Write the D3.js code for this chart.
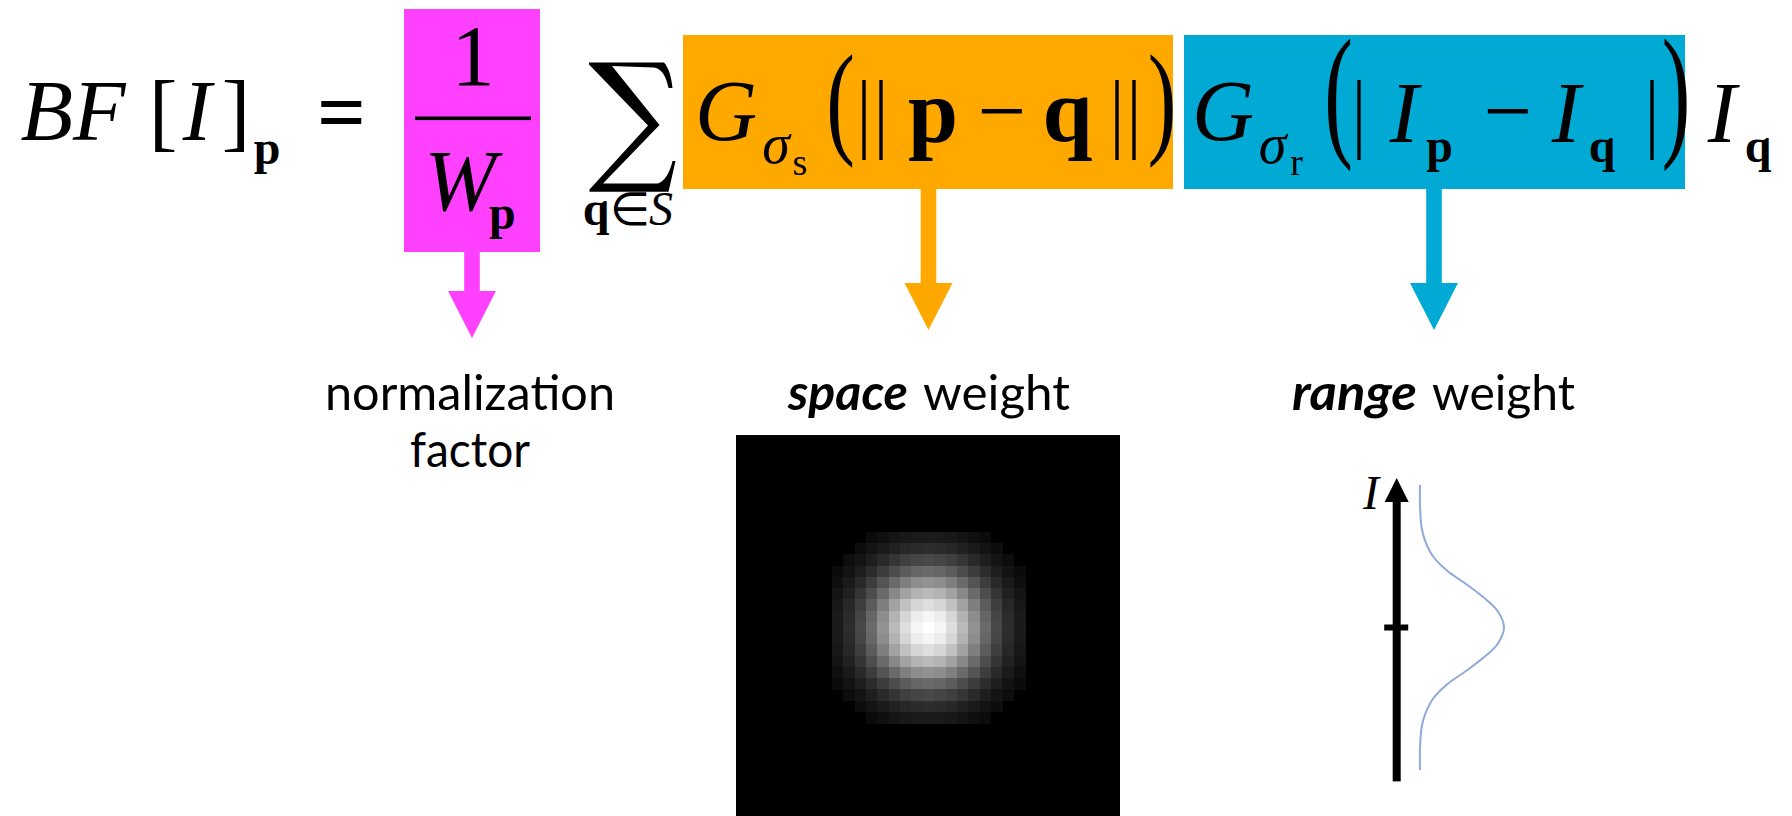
<!DOCTYPE html>
<html><head><meta charset="utf-8">
<script src="https://cdn.jsdelivr.net/npm/d3@7"></script>
<style>html,body{margin:0;padding:0;background:#fff;overflow:hidden}</style>
</head><body>
<svg id="c" width="1792" height="816" xmlns="http://www.w3.org/2000/svg"></svg>
<script>
// ---------------- data ----------------
const normLabel = ["normalization", "factor"];
const spaceLabel = ["space", "weight"];
const rangeLabel = ["range", "weight"];
// gray level of the spatial Gaussian kernel vs |offset| (in cells) along one axis
const gaussProfile = [255, 246, 222, 186, 146, 106, 72, 45, 27];
// half-width (in cells) of each kernel row vs |row offset|
const gaussRowExtent = [8, 8, 8, 8, 8, 8, 7, 6, 5];
// range kernel: [intensity offset, weight]
const rangeCurve = [
  [1.00, 0.00], [0.85, 0.00], [0.70, 0.02], [0.61, 0.06], [0.50, 0.155],
  [0.40, 0.32], [0.30, 0.56], [0.19, 0.80], [0.11, 0.93], [0.00, 1.00],
  [-0.11, 0.93], [-0.19, 0.80], [-0.30, 0.56], [-0.40, 0.32], [-0.50, 0.155],
  [-0.61, 0.06], [-0.70, 0.02], [-0.85, 0.00], [-1.00, 0.00]
];

// ---------------- drawing ----------------
const svg = d3.select("#c");
const SERIF = "'Liberation Serif','Times New Roman',serif";
const SANS = "Lato,'Open Sans',sans-serif";
const MAG = "#ff40ff", ORA = "#ffa800", BLU = "#00aad4";

// coloured boxes
const boxes = [
  {x: 404, y: 9, w: 136, h: 243, c: MAG},
  {x: 683, y: 35, w: 490, h: 154, c: ORA},
  {x: 1184, y: 35, w: 501, h: 154, c: BLU}
];
svg.selectAll("rect.box").data(boxes).join("rect").attr("class", "box")
  .attr("x", d => d.x).attr("y", d => d.y).attr("width", d => d.w).attr("height", d => d.h)
  .attr("fill", d => d.c);

// arrows
const arrows = [
  {x: 472, y0: 252, y1: 291, tip: 338, c: MAG},
  {x: 928.5, y0: 189, y1: 283, tip: 330, c: ORA},
  {x: 1434, y0: 189, y1: 283, tip: 330, c: BLU}
];
arrows.forEach(a => {
  svg.append("rect").attr("x", a.x - 7.8).attr("y", a.y0 - 1).attr("width", 15.6)
    .attr("height", a.y1 - a.y0 + 2).attr("fill", a.c);
  svg.append("path").attr("d", d3.line()([[a.x - 24, a.y1], [a.x + 24, a.y1], [a.x, a.tip]]) + "Z")
    .attr("fill", a.c);
});

// formula glyphs: t text, x centre, y baseline, s size, f style (i italic, b bold, r roman)
const glyphs = [
  {t: "BF", x: 73, y: 140, s: 86, f: "i"},
  {t: "[", x: 163, y: 140, s: 86, f: "r"},
  {t: "I", x: 197, y: 140, s: 86, f: "i"},
  {t: "]", x: 236, y: 140, s: 86, f: "r"},
  {t: "p", x: 267, y: 164, s: 48, f: "b"},
  {t: "=", x: 341.5, y: 141, s: 86, f: "b"},
  {t: "1", x: 473, y: 85, s: 86, f: "r"},
  {t: "q", x: 596, y: 225, s: 48, f: "b"},
  {t: "∈", x: 629.5, y: 225, s: 46, f: "r"},
  {t: "S", x: 661, y: 225, s: 48, f: "i"},
  // space kernel
  {t: "G", x: 726, y: 140, s: 86, f: "i"},
  {t: "σ", x: 776, y: 163, s: 56, f: "i"},
  {t: "s", x: 800, y: 175, s: 38, f: "r"},
  {t: "p", x: 933, y: 142, s: 90, f: "b"},
  {t: "−", x: 1002, y: 140, s: 86, f: "r"},
  {t: "q", x: 1067.5, y: 142, s: 90, f: "b"},
  // range kernel
  {t: "G", x: 1223, y: 140, s: 86, f: "i"},
  {t: "σ", x: 1272.5, y: 163, s: 56, f: "i"},
  {t: "r", x: 1296.5, y: 175, s: 38, f: "r"},
  {t: "I", x: 1404, y: 142, s: 86, f: "i"},
  {t: "p", x: 1439.5, y: 162, s: 48, f: "b"},
  {t: "−", x: 1508, y: 140, s: 86, f: "r"},
  {t: "I", x: 1566, y: 142, s: 86, f: "i"},
  {t: "q", x: 1602, y: 162, s: 48, f: "b"},
  {t: "I", x: 1722, y: 142, s: 86, f: "i"},
  {t: "q", x: 1758, y: 162, s: 48, f: "b"}
];
svg.selectAll("text.g").data(glyphs).join("text").attr("class", "g")
  .attr("x", d => d.x).attr("y", d => d.y)
  .attr("text-anchor", "middle")
  .attr("font-family", SERIF).attr("font-size", d => d.s)
  .attr("font-style", d => d.f === "i" ? "italic" : "normal")
  .attr("font-weight", d => d.f === "b" ? "bold" : "normal")
  .attr("fill", "#000").text(d => d.t);

// denominator W_p (W advance tightened so the subscript sits close)
svg.append("text").attr("x", 424.5).attr("y", 210)
  .attr("font-family", SERIF).attr("font-size", 86).attr("font-style", "italic")
  .attr("letter-spacing", -10).attr("fill", "#000").text("W");
svg.append("text").attr("x", 489).attr("y", 229)
  .attr("font-family", SERIF).attr("font-size", 48).attr("font-weight", "bold")
  .attr("fill", "#000").text("p");

// summation sign (drawn as an outline)
const sp = d3.path();
sp.moveTo(589, 62.5);
sp.lineTo(664, 62.5);
sp.bezierCurveTo(669, 68, 671.5, 78, 672.5, 88);
sp.lineTo(668.5, 88);
sp.bezierCurveTo(666, 76, 662, 69, 654, 67.5);
sp.lineTo(612, 66);
sp.lineTo(659.5, 125);
sp.lineTo(603, 183.5);
sp.lineTo(658, 183.5);
sp.bezierCurveTo(665, 181, 670, 172, 672.5, 161);
sp.lineTo(675.5, 161);
sp.lineTo(668.5, 191.7);
sp.lineTo(589.5, 191.7);
sp.lineTo(589.5, 189.5);
sp.lineTo(648, 125.5);
sp.lineTo(589, 64.5);
sp.closePath();
svg.append("path").attr("d", sp.toString()).attr("fill", "#000");

// fraction bar
svg.append("rect").attr("x", 415).attr("y", 116.5).attr("width", 116).attr("height", 3.6).attr("fill", "#000");

// stretched parentheses
const parens = [
  {t: "(", x: 840.5, base: 141.3, k: 1.45},
  {t: ")", x: 1162, base: 141.3, k: 1.45},
  {t: "(", x: 1338.5, base: 139.8, k: 1.70},
  {t: ")", x: 1676, base: 139.8, k: 1.70}
];
parens.forEach(p => {
  svg.append("text").attr("transform", `translate(${p.x},${p.base}) scale(1,${p.k})`)
    .attr("text-anchor", "middle").attr("font-family", SERIF).attr("font-size", 86)
    .attr("fill", "#000").text(p.t);
});

// norm / absolute-value bars
const bars = [864, 881, 1117, 1134, 1359, 1652];
svg.selectAll("rect.bar").data(bars).join("rect").attr("class", "bar")
  .attr("x", d => d - 1.7).attr("y", 80).attr("width", 3.4).attr("height", 80).attr("fill", "#000");

// ---------------- labels ----------------
function label(parts, y) {
  parts.forEach(p => {
    svg.append("text").attr("x", p.x0).attr("y", y)
      .attr("font-family", SANS).attr("font-size", 49)
      .attr("font-style", p.bi ? "italic" : "normal")
      .attr("font-weight", p.bi ? "bold" : "normal")
      .attr("textLength", p.x1 - p.x0).attr("lengthAdjust", "spacingAndGlyphs")
      .attr("fill", "#000").text(p.t);
  });
}
label([{t: normLabel[0], x0: 325, x1: 615}], 410);
label([{t: normLabel[1], x0: 410, x1: 530}], 467);
label([{t: spaceLabel[0], x0: 788, x1: 908, bi: true}, {t: spaceLabel[1], x0: 923, x1: 1070}], 410);
label([{t: rangeLabel[0], x0: 1292, x1: 1417, bi: true}, {t: rangeLabel[1], x0: 1432, x1: 1575}], 410);

// ---------------- space weight image ----------------
svg.append("rect").attr("x", 736).attr("y", 435).attr("width", 384).attr("height", 381).attr("fill", "#000");
const gx = d3.scaleLinear().domain([-8.5, 8.5]).range([832, 1025]);
const gy = d3.scaleLinear().domain([-8.5, 8.5]).range([532, 723]);
const cells = [];
for (let dy = -8; dy <= 8; dy++) {
  const ext = gaussRowExtent[Math.abs(dy)];
  for (let dx = -ext; dx <= ext; dx++) {
    cells.push({dx, dy, v: Math.round(gaussProfile[Math.abs(dx)] * gaussProfile[Math.abs(dy)] / 255)});
  }
}
svg.append("g").attr("shape-rendering", "crispEdges").selectAll("rect").data(cells).join("rect")
  .attr("x", d => gx(d.dx - 0.5)).attr("y", d => gy(d.dy - 0.5))
  .attr("width", gx(1) - gx(0) + 0.5).attr("height", gy(1) - gy(0) + 0.5)
  .attr("fill", d => d3.rgb(d.v, d.v, d.v));

// ---------------- range weight plot ----------------
const xW = d3.scaleLinear().domain([0, 1]).range([1420, 1504]);
const yI = d3.scaleLinear().domain([-1, 1]).range([770, 485]);
const axX = 1396.7;
svg.append("rect").attr("x", axX - 4).attr("y", yI(0.885)).attr("width", 8)
  .attr("height", yI(-1.08) - yI(0.885)).attr("fill", "#000");
svg.append("path").attr("d", d3.line()([[axX - 12, yI(0.88)], [axX + 12, yI(0.88)], [axX, yI(1.05)]]) + "Z")
  .attr("fill", "#000");
svg.append("rect").attr("x", axX - 12.5).attr("y", yI(0) - 3).attr("width", 24).attr("height", 6).attr("fill", "#000");
svg.append("text").attr("x", 1371).attr("y", 509).attr("text-anchor", "middle")
  .attr("font-family", SERIF).attr("font-style", "italic").attr("font-size", 48).attr("fill", "#000").text("I");
svg.append("path").datum(rangeCurve)
  .attr("d", d3.line().x(d => xW(d[1])).y(d => yI(d[0])).curve(d3.curveCatmullRom.alpha(0.5)))
  .attr("fill", "none").attr("stroke", "#8eaadb").attr("stroke-width", 2);
</script>
</body></html>
